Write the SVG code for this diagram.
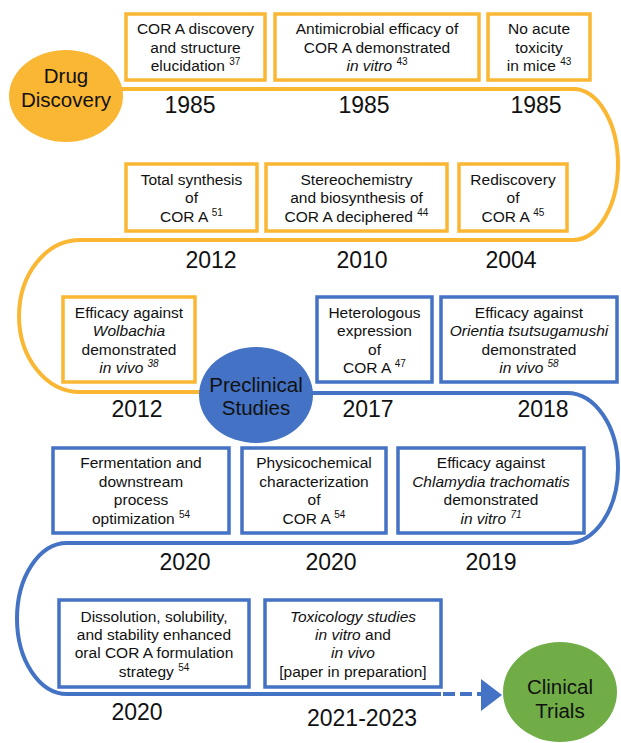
<svg xmlns="http://www.w3.org/2000/svg" width="621" height="743" viewBox="0 0 621 743">
<style>
.bo{fill:#fff;stroke:#FAB733;stroke-width:3.5}
.bb{fill:#fff;stroke:#4472C4;stroke-width:3.5}
.t{font-family:"Liberation Sans",Arial,sans-serif;font-size:15.5px;fill:#111;text-anchor:middle}
.i{font-style:italic}
.sup{font-size:10px}
.yr{font-family:"Liberation Sans",Arial,sans-serif;font-size:23px;fill:#111;text-anchor:middle}
.ct{font-family:"Liberation Sans",Arial,sans-serif;font-size:20.5px;fill:#111;text-anchor:middle}
.lo{fill:none;stroke:#FAB733;stroke-width:4}
.lb{fill:none;stroke:#4472C4;stroke-width:4}
</style>
<rect width="621" height="743" fill="#fff"/>
<g id="connectors">
<path class="lo" d="M110 89 H573 A45 75.5 0 0 1 573 240 H80 A61 76 0 0 0 80 392 H205"/>
<path class="lb" d="M305 393 H567 A51 75 0 0 1 567 543 H67 A50 75.5 0 0 0 67 694 H441"/>
<path class="lb" d="M443 694 H482" stroke-dasharray="12 5"/>
<polygon points="481,679 502,695 481,711" fill="#4472C4"/>
</g>
<g id="drug-discovery">
<ellipse cx="66" cy="96" rx="57" ry="46" fill="#FAB733"/>
<text class="ct"><tspan x="66" y="83">Drug</tspan><tspan x="66" y="107">Discovery</tspan></text>
</g>
<g id="preclinical">
<ellipse cx="256" cy="395" rx="57" ry="48" fill="#4472C4"/>
<text class="ct"><tspan x="256" y="392">Preclinical</tspan><tspan x="256" y="415">Studies</tspan></text>
</g>
<g id="clinical">
<ellipse cx="560" cy="692" rx="57" ry="50" fill="#70AD47"/>
<text class="ct"><tspan x="560" y="694">Clinical</tspan><tspan x="560" y="718">Trials</tspan></text>
</g>
<g id="n1">
<rect class="bo" x="126" y="14" width="139" height="66"/>
<text class="t"><tspan x="195.5" y="34">COR A discovery</tspan><tspan x="195.5" y="53">and structure</tspan><tspan x="195.5" y="71">elucidation <tspan class="sup" dy="-6">37</tspan></tspan></text>
<text class="yr" x="190" y="113">1985</text>
</g>
<g id="n2">
<rect class="bo" x="275" y="14" width="204" height="66"/>
<text class="t"><tspan x="377" y="34">Antimicrobial efficacy of</tspan><tspan x="377" y="53">COR A demonstrated</tspan><tspan x="377" y="71"><tspan class="i">in vitro</tspan> <tspan class="sup" dy="-6">43</tspan></tspan></text>
<text class="yr" x="364" y="113">1985</text>
</g>
<g id="n3">
<rect class="bo" x="488" y="14" width="102" height="66"/>
<text class="t"><tspan x="539" y="34">No acute</tspan><tspan x="539" y="53">toxicity</tspan><tspan x="539" y="71">in mice <tspan class="sup" dy="-6">43</tspan></tspan></text>
<text class="yr" x="536" y="113">1985</text>
</g>
<g id="n4">
<rect class="bo" x="459" y="164" width="108" height="67"/>
<text class="t"><tspan x="513" y="185">Rediscovery</tspan><tspan x="513" y="203">of</tspan><tspan x="513" y="222">COR A <tspan class="sup" dy="-6">45</tspan></tspan></text>
<text class="yr" x="511" y="268">2004</text>
</g>
<g id="n5">
<rect class="bo" x="266" y="164" width="181" height="67"/>
<text class="t"><tspan x="356.5" y="185">Stereochemistry</tspan><tspan x="356.5" y="203">and biosynthesis of</tspan><tspan x="356.5" y="222">COR A deciphered <tspan class="sup" dy="-6">44</tspan></tspan></text>
<text class="yr" x="362" y="268">2010</text>
</g>
<g id="n6">
<rect class="bo" x="126" y="164" width="131" height="67"/>
<text class="t"><tspan x="191.5" y="185">Total synthesis</tspan><tspan x="191.5" y="203">of</tspan><tspan x="191.5" y="222">COR A <tspan class="sup" dy="-6">51</tspan></tspan></text>
<text class="yr" x="211" y="268">2012</text>
</g>
<g id="n7">
<rect class="bo" x="63" y="297" width="132" height="85"/>
<text class="t"><tspan x="129" y="318">Efficacy against</tspan><tspan x="129" y="336" class="i">Wolbachia</tspan><tspan x="129" y="355">demonstrated</tspan><tspan x="129" y="373" class="i">in vivo <tspan class="sup" dy="-6">38</tspan></tspan></text>
<text class="yr" x="137" y="417">2012</text>
</g>
<g id="n8">
<rect class="bb" x="317" y="297" width="115" height="85"/>
<text class="t"><tspan x="374.5" y="318">Heterologous</tspan><tspan x="374.5" y="336">expression</tspan><tspan x="374.5" y="355">of</tspan><tspan x="374.5" y="373">COR A <tspan class="sup" dy="-6">47</tspan></tspan></text>
<text class="yr" x="368" y="417">2017</text>
</g>
<g id="n9">
<rect class="bb" x="441" y="297" width="176" height="85"/>
<text class="t"><tspan x="529" y="318">Efficacy against</tspan><tspan x="529" y="336" class="i">Orientia tsutsugamushi</tspan><tspan x="529" y="355">demonstrated</tspan><tspan x="529" y="373" class="i">in vivo <tspan class="sup" dy="-6">58</tspan></tspan></text>
<text class="yr" x="543" y="417">2018</text>
</g>
<g id="n10">
<rect class="bb" x="398" y="448" width="186" height="85"/>
<text class="t"><tspan x="491" y="468">Efficacy against</tspan><tspan x="491" y="487" class="i">Chlamydia trachomatis</tspan><tspan x="491" y="505">demonstrated</tspan><tspan x="491" y="524" class="i">in vitro <tspan class="sup" dy="-6">71</tspan></tspan></text>
<text class="yr" x="491" y="570">2019</text>
</g>
<g id="n11">
<rect class="bb" x="242" y="448" width="144" height="85"/>
<text class="t"><tspan x="314" y="468">Physicochemical</tspan><tspan x="314" y="487">characterization</tspan><tspan x="314" y="505">of</tspan><tspan x="314" y="524">COR A <tspan class="sup" dy="-6">54</tspan></tspan></text>
<text class="yr" x="331" y="570">2020</text>
</g>
<g id="n12">
<rect class="bb" x="53" y="448" width="176" height="85"/>
<text class="t"><tspan x="141" y="468">Fermentation and</tspan><tspan x="141" y="487">downstream</tspan><tspan x="141" y="505">process</tspan><tspan x="141" y="524">optimization <tspan class="sup" dy="-6">54</tspan></tspan></text>
<text class="yr" x="185" y="570">2020</text>
</g>
<g id="n13">
<rect class="bb" x="59" y="600" width="190" height="87"/>
<text class="t"><tspan x="154" y="622">Dissolution, solubility,</tspan><tspan x="154" y="640">and stability enhanced</tspan><tspan x="154" y="658">oral COR A formulation</tspan><tspan x="154" y="677">strategy <tspan class="sup" dy="-6">54</tspan></tspan></text>
<text class="yr" x="137" y="720">2020</text>
</g>
<g id="n14">
<rect class="bb" x="265" y="600" width="176" height="87"/>
<text class="t"><tspan x="353" y="622" class="i">Toxicology studies</tspan><tspan x="353" y="640"><tspan class="i">in vitro</tspan> and</tspan><tspan x="353" y="658" class="i">in vivo</tspan><tspan x="353" y="677">[paper in preparation]</tspan></text>
<text class="yr" x="362" y="726">2021-2023</text>
</g>
</svg>
